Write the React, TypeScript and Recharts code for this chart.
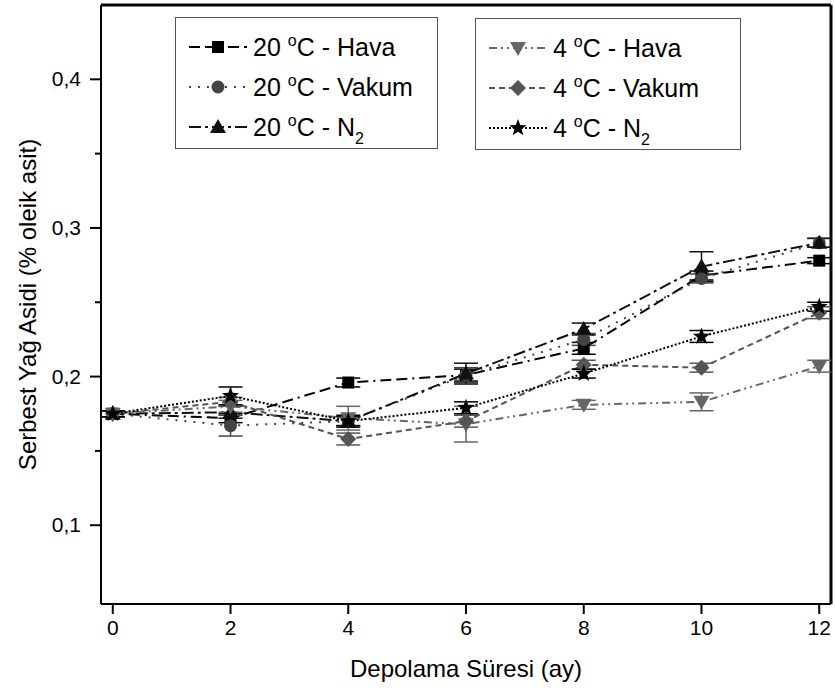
import React from "react";
import {
  LineChart,
  Line,
  XAxis,
  YAxis,
  ErrorBar,
  Legend,
  ReferenceLine,
} from "recharts";

const months = [0, 2, 4, 6, 8, 10, 12];
const xTicks = [0, 2, 4, 6, 8, 10, 12];
const yTicks = [0.1, 0.15, 0.2, 0.25, 0.3, 0.35, 0.4];

const hava20 = [0.175, 0.172, 0.196, 0.201, 0.219, 0.268, 0.278];
const hava20Err = [0.002, 0.003, 0.003, 0.004, 0.004, 0.003, 0.002];
const vakum20 = [0.175, 0.167, 0.17, 0.201, 0.225, 0.266, 0.29];
const vakum20Err = [0.002, 0.007, 0.003, 0.005, 0.004, 0.003, 0.003];
const azot20 = [0.175, 0.176, 0.17, 0.202, 0.232, 0.274, 0.29];
const azot20Err = [0.002, 0.004, 0.003, 0.007, 0.004, 0.01, 0.003];
const hava4 = [0.175, 0.18, 0.172, 0.168, 0.181, 0.183, 0.207];
const hava4Err = [0.002, 0.004, 0.008, 0.012, 0.003, 0.006, 0.004];
const vakum4 = [0.175, 0.183, 0.158, 0.17, 0.208, 0.206, 0.243];
const vakum4Err = [0.002, 0.003, 0.004, 0.004, 0.003, 0.003, 0.004];
const azot4 = [0.175, 0.187, 0.17, 0.179, 0.202, 0.227, 0.247];
const azot4Err = [0.002, 0.006, 0.004, 0.004, 0.003, 0.004, 0.003];

const data = months.map((m, i) => ({
  month: m,
  h20: hava20[i],
  h20e: hava20Err[i],
  v20: vakum20[i],
  v20e: vakum20Err[i],
  n20: azot20[i],
  n20e: azot20Err[i],
  h4: hava4[i],
  h4e: hava4Err[i],
  v4: vakum4[i],
  v4e: vakum4Err[i],
  n4: azot4[i],
  n4e: azot4Err[i],
}));

const FONT = '"Liberation Sans", Arial, sans-serif';

type Shape = "square" | "circle" | "triangle" | "down" | "diamond" | "star";

function markerPath(shape: Shape, cx: number, cy: number, fill: string) {
  switch (shape) {
    case "square":
      return <rect x={cx - 6} y={cy - 6} width={12} height={12} fill={fill} />;
    case "circle":
      return <circle cx={cx} cy={cy} r={6.5} fill={fill} />;
    case "triangle":
      return (
        <polygon
          points={`${cx},${cy - 8} ${cx + 8},${cy + 6} ${cx - 8},${cy + 6}`}
          fill={fill}
        />
      );
    case "down":
      return (
        <polygon
          points={`${cx - 8},${cy - 6} ${cx + 8},${cy - 6} ${cx},${cy + 8}`}
          fill={fill}
        />
      );
    case "diamond":
      return (
        <polygon
          points={`${cx},${cy - 8} ${cx + 8},${cy} ${cx},${cy + 8} ${cx - 8},${cy}`}
          fill={fill}
        />
      );
    case "star": {
      const pts: string[] = [];
      for (let k = 0; k < 10; k++) {
        const r = k % 2 === 0 ? 9 : 3.8;
        const a = -Math.PI / 2 + (k * Math.PI) / 5;
        pts.push(`${cx + r * Math.cos(a)},${cy + r * Math.sin(a)}`);
      }
      return <polygon points={pts.join(" ")} fill={fill} />;
    }
  }
}

const series = [
  { key: "h20", err: "h20e", shape: "square" as Shape, color: "#000", dash: "11 5 11 5 2 5", temp: "20", name: "Hava" },
  { key: "v20", err: "v20e", shape: "circle" as Shape, color: "#444", dash: "2 7", temp: "20", name: "Vakum" },
  { key: "n20", err: "n20e", shape: "triangle" as Shape, color: "#111", dash: "12 4 3 4", temp: "20", name: "N2" },
  { key: "h4", err: "h4e", shape: "down" as Shape, color: "#666", dash: "8 4 2 4 2 4", temp: "4", name: "Hava" },
  { key: "v4", err: "v4e", shape: "diamond" as Shape, color: "#555", dash: "6 4", temp: "4", name: "Vakum" },
  { key: "n4", err: "n4e", shape: "star" as Shape, color: "#000", dash: "2 2", temp: "4", name: "N2" },
];

function LegendLabel({ temp, name }: { temp: string; name: string }) {
  return (
    <span>
      {temp} <sup style={{ fontSize: 16, verticalAlign: 10, lineHeight: 0 }}>o</sup>C -{" "}
      {name === "N2" ? (
        <>
          N<sub style={{ fontSize: 16, verticalAlign: -8, lineHeight: 0 }}>2</sub>
        </>
      ) : (
        name
      )}
    </span>
  );
}

function LegendBox({ items, left, top, width }: { items: typeof series; left: number; top: number; width: number }) {
  return (
    <div
      style={{
        position: "absolute",
        left,
        top,
        width,
        height: 132,
        border: "1px solid #555",
        boxSizing: "border-box",
        paddingTop: 9,
        background: "#fff",
      }}
    >
      {items.map((s) => (
        <div
          key={s.key}
          style={{
            display: "flex",
            alignItems: "center",
            height: 40,
            fontFamily: FONT,
            fontSize: 25,
            color: "#000",
            whiteSpace: "nowrap",
          }}
        >
          <svg width={66} height={24} style={{ marginLeft: 11 }}>
            <line x1={2} y1={12} x2={60} y2={12} stroke={s.color} strokeWidth={2} strokeDasharray={s.dash} />
            {markerPath(s.shape, 31, 12, s.color)}
          </svg>
          <LegendLabel temp={s.temp} name={s.name} />
        </div>
      ))}
    </div>
  );
}

function renderLegend() {
  return (
    <div>
      <LegendBox items={series.slice(0, 3)} left={175} top={17} width={263} />
      <LegendBox items={series.slice(3)} left={475} top={18} width={266} />
    </div>
  );
}

function YTick(props: any) {
  const { x, y, payload } = props;
  const axisX = x + 14;
  const v = payload.value;
  const major = Math.abs(v * 10 - Math.round(v * 10)) < 1e-6;
  return (
    <g>
      <line x1={axisX - (major ? 11 : 6)} y1={y} x2={axisX} y2={y} stroke="#000" strokeWidth={2} />
      {major && (
        <text x={axisX - 20} y={y} dy={7} textAnchor="end" fontFamily={FONT} fontSize={21} fill="#000">
          {v.toFixed(1).replace(".", ",")}
        </text>
      )}
    </g>
  );
}

function YTitle(props: any) {
  const { viewBox } = props;
  const cy = viewBox.y + viewBox.height / 2;
  return (
    <text
      x={30}
      y={cy}
      transform={`rotate(-90 30 ${cy})`}
      textAnchor="middle"
      dominantBaseline="middle"
      fontFamily={FONT}
      fontSize={24}
      fill="#000"
    >
      Serbest Yağ Asidi (% oleik asit)
    </text>
  );
}

export default function App() {
  return (
    <div style={{ position: "absolute", left: 0, top: 0, width: 835, height: 695, background: "#fff" }}>
      <LineChart width={835} height={695} data={data} margin={{ top: 5, right: 4, bottom: 0, left: 0 }}>
        <XAxis
          dataKey="month"
          type="number"
          domain={[-0.2, 12.2]}
          ticks={xTicks}
          allowDataOverflow
          height={91}
          tickSize={10}
          tickMargin={6}
          axisLine={{ stroke: "#000", strokeWidth: 2 }}
          tickLine={{ stroke: "#000", strokeWidth: 2 }}
          tick={{ fill: "#000", fontSize: 21, fontFamily: FONT }}
          label={{
            value: "Depolama Süresi (ay)",
            position: "insideBottom",
            offset: 18,
            fill: "#000",
            fontSize: 24,
            fontFamily: FONT,
          }}
        />
        <YAxis
          type="number"
          domain={[0.047, 0.45]}
          ticks={yTicks}
          allowDataOverflow
          width={101}
          tickSize={10}
          tickMargin={4}
          tickLine={false}
          interval={0}
          axisLine={{ stroke: "#000", strokeWidth: 2 }}
          tick={<YTick />}
          label={<YTitle />}
        />
        <ReferenceLine y={0.45} stroke="#000" strokeWidth={3} />
        <ReferenceLine x={12.2} stroke="#000" strokeWidth={3} />
        {series.map((s) => (
          <Line
            key={s.key}
            type="linear"
            dataKey={s.key}
            stroke={s.color}
            strokeWidth={2}
            strokeDasharray={s.dash}
            isAnimationActive={false}
            dot={(p: any) => <g key={`${s.key}-${p.index}`}>{markerPath(s.shape, p.cx, p.cy, s.color)}</g>}
            activeDot={false}
            legendType="none"
          >
            <ErrorBar dataKey={s.err} width={12} stroke={s.color} strokeWidth={1.5} isAnimationActive={false} />
          </Line>
        ))}
        <Legend content={renderLegend} wrapperStyle={{ position: "absolute", left: 0, top: 0, width: 0, height: 0 }} />
      </LineChart>
    </div>
  );
}
